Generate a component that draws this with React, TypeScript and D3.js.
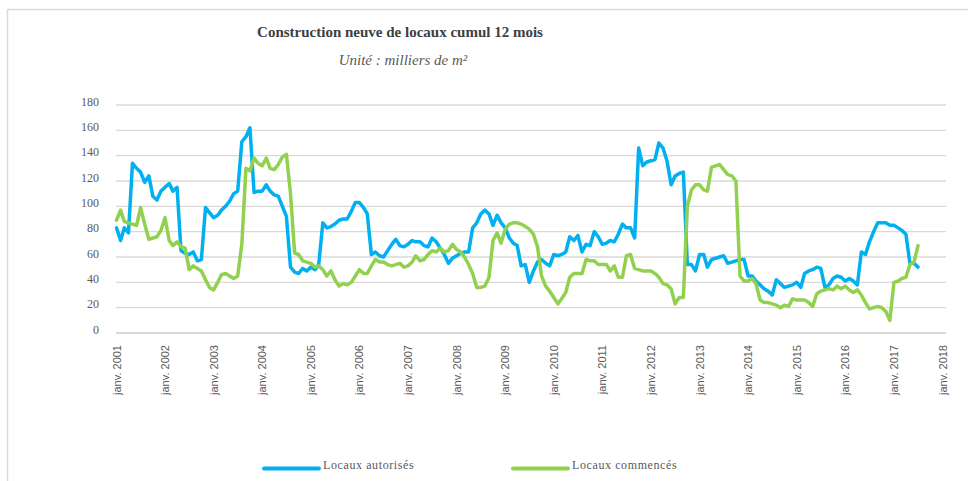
import React from 'react';
import * as d3 from 'd3';

// monthly values, janv. 2001 -> juil. 2017 (milliers de m², cumul 12 mois)
const START = new Date(2001, 0, 1);

const AUTORISES = [
  83, 73, 83, 79, 134, 130, 127, 119, 124, 108,
  105, 112, 115, 118, 112, 115, 65, 63, 62, 64,
  57, 58, 99, 95, 91, 93, 97, 100, 104, 110,
  112, 151, 155, 162, 111, 112, 112, 117, 112, 109,
  108, 100, 92, 52, 48, 47, 51, 49, 52, 50,
  54, 87, 83, 84, 86, 89, 90, 90, 96, 103,
  103, 99, 94, 62, 64, 61, 60, 65, 70, 74,
  69, 68, 70, 73, 72, 72, 69, 68, 75, 72,
  67, 62, 55, 59, 61, 63, 64, 64, 83, 87,
  94, 97, 94, 85, 93, 87, 83, 75, 71, 69,
  53, 54, 40, 49, 56, 58, 55, 53, 62, 61,
  62, 64, 76, 73, 77, 64, 70, 69, 80, 76,
  70, 71, 73, 72, 78, 86, 83, 83, 75, 146,
  132, 135, 136, 137, 150, 146, 136, 117, 124, 126,
  127, 54, 54, 49, 62, 62, 52, 58, 59, 60,
  61, 55, 56, 57, 58, 58, 45, 45, 41, 38,
  35, 33, 30, 42, 39, 36, 37, 38, 40, 36,
  47, 49, 50, 52, 51, 36, 38, 43, 45, 44,
  41, 43, 41, 38, 64, 62, 72, 80, 87, 87,
  87, 85, 85, 83, 81, 78, 55, 55, 52,
];

const COMMENCES = [
  89, 97, 88, 87, 86, 85, 99, 86, 74, 75,
  76, 81, 91, 73, 69, 72, 68, 67, 50, 53,
  51, 49, 42, 36, 34, 40, 46, 47, 45, 43,
  45, 70, 130, 128, 138, 134, 132, 138, 130, 129,
  133, 139, 141, 110, 63, 62, 57, 56, 55, 52,
  53, 50, 45, 49, 42, 37, 39, 38, 40, 45,
  50, 47, 47, 53, 58, 56, 56, 54, 53, 54,
  55, 52, 53, 56, 61, 57, 58, 62, 65, 64,
  67, 64, 65, 70, 66, 64, 60, 54, 47, 36,
  36, 37, 44, 73, 79, 71, 82, 86, 87, 87,
  86, 84, 82, 78, 68, 45, 37, 33, 28, 23,
  27, 32, 44, 47, 47, 47, 58, 57, 57, 54,
  54, 54, 49, 53, 44, 44, 61, 62, 51, 50,
  49, 49, 49, 47, 44, 39, 38, 35, 23, 28,
  28, 100, 113, 117, 117, 113, 112, 131, 132, 133,
  129, 125, 124, 120, 45, 41, 41, 43, 39, 26,
  24, 24, 23, 22, 20, 22, 21, 27, 26, 26,
  26, 24, 21, 31, 33, 34, 35, 34, 37, 35,
  37, 34, 32, 34, 30, 24, 19, 20, 21, 20,
  17, 10, 40, 41, 43, 44, 54, 56, 69,
];

const Y_TICKS = [0, 20, 40, 60, 80, 100, 120, 140, 160, 180];
const YEARS = d3.range(2001, 2019);

const SERIES = [
  { name: 'Locaux autorisés', values: AUTORISES, color: '#00b0f0' },
  { name: 'Locaux commencés', values: COMMENCES, color: '#92d050' },
];

const W = 968;
const H = 481;

export default function App() {
  const x = d3.scaleTime()
    .domain([START, new Date(2018, 0, 1)])
    .range([116.5, 942.5]);
  const y = d3.scaleLinear().domain([0, 180]).range([333, 105]);

  const line = d3.line<number>()
    .x((_, i) => x(d3.timeMonth.offset(START, i)))
    .y((d) => y(d));

  const grey = '#595959';

  return (
    <svg width={W} height={H} style={{ position: 'absolute', left: 0, top: 0, background: '#fff' }}>
      {/* frame */}
      <line x1={7.5} x2={W} y1={9.5} y2={9.5} stroke="#d9d9d9" strokeWidth={1.5} />
      <line x1={7.5} x2={7.5} y1={9.5} y2={H} stroke="#d9d9d9" strokeWidth={1.5} />

      <text x={400} y={37} textAnchor="middle" fontFamily="Liberation Serif" fontWeight="bold" fontSize={15} fill="#404040">
        Construction neuve de locaux cumul 12 mois
      </text>
      <text x={403} y={65} textAnchor="middle" fontFamily="Liberation Serif" fontStyle="italic" fontSize={15} fill={grey}>
        Unité : milliers de m²
      </text>

      {/* grid + y labels */}
      {Y_TICKS.map((t) => (
        <g key={t}>
          <line x1={116} x2={946} y1={y(t)} y2={y(t)} stroke="#d9d9d9" strokeWidth={t === 0 ? 2 : 1.3} />
          <text x={99} y={y(t) - 2} textAnchor="end" dominantBaseline="middle" fontFamily="Liberation Serif" fontSize={12} fill={grey}>
            {t}
          </text>
        </g>
      ))}

      {/* x labels */}
      {YEARS.map((yr) => {
        const px = x(new Date(yr, 0, 1));
        return (
          <text key={yr} transform={`translate(${px + 4},345) rotate(-90)`} textAnchor="end" fontFamily="Liberation Sans" fontSize={11} fill={grey}>
            {`janv. ${yr}`}
          </text>
        );
      })}

      {SERIES.map((s) => (
        <path key={s.name} d={line(s.values) ?? ''} fill="none" stroke={s.color} strokeWidth={3.5} strokeLinejoin="round" strokeLinecap="round" />
      ))}

      {/* legend */}
      {SERIES.map((s, i) => {
        const lx = i === 0 ? 264 : 513;
        return (
          <g key={s.name}>
            <line x1={lx} x2={lx + 55} y1={468.5} y2={468.5} stroke={s.color} strokeWidth={4} strokeLinecap="round" />
            <text x={lx + 59} y={469} fontFamily="Liberation Serif" fontSize={12} letterSpacing={0.6} fill={grey}>
              {s.name}
            </text>
          </g>
        );
      })}
    </svg>
  );
}
